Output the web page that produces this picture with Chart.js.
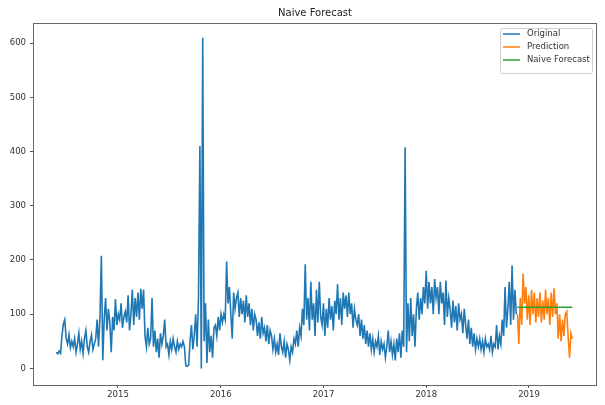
<!DOCTYPE html>
<html><head><meta charset="utf-8">
<script src="https://cdn.jsdelivr.net/npm/chart.js@4.4.1/dist/chart.umd.min.js"></script>
<style>html,body{margin:0;padding:0;background:#fff;overflow:hidden}#wrap{position:relative;width:605px;height:405px}</style>
</head><body><div id="wrap"><canvas id="c" width="605" height="405"></canvas></div>
<script>
const chartTitle = 'Naive Forecast';
const seriesNames = ['Original', 'Prediction', 'Naive Forecast'];
const seriesColors = ['#1f77b4', '#ff7f0e', '#2ca02c'];
const sampleDays = 5;
const originalStart = '2014-05-27';
const predictionStart = '2018-11-21';
const originalValues = [
30,27,32,28, 60,82,90, 55,45,62,38,50,40,55,30,
45,65,35,50,28,55,70,40,30,50,62,35,45, 55,90,40,95, 208, 15,
90,130,70,110,85,30,95, 70,128,80,100,90,120,75,95,105,85,135,70,
100,145,80,130,95,140,90,147,110,145, 60,40,75,45, 55,130,
40,70,30,55,20,65,45,60, 90,40, 45,25,50,35,55,40,30,50,35,45,40,50,
40, 5,4,6, 50,80,35,60,100,40,130, 410, 0, 610,
50,120,10,90,30,60,20,75, 80,60,95,70,100,85, 100,90,197,
120,150,100,55,140,110,130, 140,95,130,100,125,85,135,95,120,80,110,70,100,
90,60,85,55,95,65,75,50,80,45,70,
60,35,55,30,45,25,65,40,30,50,20,45,35,15,40,30,55,
45,70,40,75,60, 110,80,192,90,
130,70,160,90,120,60,145,85,160,95, 80,120,60,110,75,130,90,115,70,125,100,155,
90,130,80,140,110,135,95,140,100,120,75,110,90,
80,100,60,90,55,80,45,70,40,65,35,55,30,50,
40,60,25,50,35,45,20,40,70,30,50,25,45, 15,55,30,65,20,70, 40, 408,
30,120,50,130,60,100,40,110, 140,90,130,100,150,120,
180,110,160,120,150,100,165,130, 150,100,160,120,140,80,162,95,130,
110,75,125,85,115,70,120,90,100,65,110, 80,55,90,45,75,40,65,35,55,
40,55,35,50,30,55,40,45,35,60,30,45, 40,80,35,60,45,90,
60,150,75,110,160,80, 190, 90,145,100
];
const predictionValues = [
100,45,130,80,175,120,150,90,135,80,145,100,140,85,130,95,140,85,125,90,
145,100,130,80,140,95,148,100,120,55,100,50,90,60,100,105,60,20,65,55
];
const naiveForecastValue = 113;
const xTickYears = [2015, 2016, 2017, 2018, 2019];
const yTickValues = [0, 100, 200, 300, 400, 500, 600];

function decYear(d) {
  const y = d.getUTCFullYear();
  const s = Date.UTC(y, 0, 1), e = Date.UTC(y + 1, 0, 1);
  return y + (d.getTime() - s) / (e - s);
}
function datesFrom(start, n) {
  const t0 = new Date(start + 'T00:00:00Z').getTime();
  const out = [];
  for (let i = 0; i < n; i++) out.push(decYear(new Date(t0 + i * sampleDays * 86400000)));
  return out;
}
const originalDates = datesFrom(originalStart, originalValues.length);
const predictionDates = datesFrom(predictionStart, predictionValues.length);

const FONT = 'DejaVu Sans';

const framePlugin = {
  id: 'frame',
  afterDraw(chart) {
    const ctx = chart.ctx, a = chart.chartArea;
    ctx.save();
    ctx.strokeStyle = '#666';
    ctx.lineWidth = 1;
    ctx.strokeRect(Math.round(a.left) + 0.5, Math.round(a.top) + 0.5, Math.round(a.right - a.left) - 1, Math.round(a.bottom - a.top));
    ctx.fillStyle = '#222';
    ctx.font = '10px "' + FONT + '"';
    ctx.textAlign = 'center';
    ctx.textBaseline = 'middle';
    ctx.fillText(chartTitle, (a.left + a.right) / 2, 13);
    const bx = 500.5, by = 28.5, bw = 92, bh = 45, r = 2;
    ctx.beginPath();
    ctx.moveTo(bx + r, by);
    ctx.lineTo(bx + bw - r, by); ctx.quadraticCurveTo(bx + bw, by, bx + bw, by + r);
    ctx.lineTo(bx + bw, by + bh - r); ctx.quadraticCurveTo(bx + bw, by + bh, bx + bw - r, by + bh);
    ctx.lineTo(bx + r, by + bh); ctx.quadraticCurveTo(bx, by + bh, bx, by + bh - r);
    ctx.lineTo(bx, by + r); ctx.quadraticCurveTo(bx, by, bx + r, by);
    ctx.closePath();
    ctx.fillStyle = 'rgba(255,255,255,0.85)';
    ctx.fill();
    ctx.strokeStyle = '#d0d0d0';
    ctx.stroke();
    ctx.font = '8.5px "' + FONT + '"';
    ctx.textAlign = 'left';
    for (let i = 0; i < seriesNames.length; i++) {
      const y = 34 + i * 13;
      ctx.strokeStyle = seriesColors[i];
      ctx.lineWidth = 1.5;
      ctx.beginPath(); ctx.moveTo(503, y); ctx.lineTo(520, y); ctx.stroke();
      ctx.fillStyle = '#333';
      ctx.fillText(seriesNames[i], 527, y);
    }
    ctx.restore();
  }
};

new Chart(document.getElementById('c'), {
  type: 'line',
  data: {
    datasets: [
      { label: seriesNames[0], data: originalValues.map((v, i) => ({ x: originalDates[i], y: v })),
        borderColor: seriesColors[0], borderWidth: 1.6, pointRadius: 0, tension: 0, order: 3 },
      { label: seriesNames[1], data: predictionValues.map((v, i) => ({ x: predictionDates[i], y: v })),
        borderColor: seriesColors[1], borderWidth: 1.6, pointRadius: 0, tension: 0, order: 2 },
      { label: seriesNames[2], data: predictionDates.map(d => ({ x: d, y: naiveForecastValue })),
        borderColor: seriesColors[2], borderWidth: 1.6, pointRadius: 0, tension: 0, order: 1 }
    ]
  },
  options: {
    animation: false, responsive: false, devicePixelRatio: 1,
    layout: { padding: { left: 0, right: 8, top: 23, bottom: 0 } },
    plugins: { legend: { display: false }, title: { display: false }, tooltip: { enabled: false } },
    scales: {
      x: {
        type: 'linear', min: 2014.173, max: 2019.662,
        afterBuildTicks: s => { s.ticks = xTickYears.map(v => ({ value: v })); },
        afterFit: s => { s.height = 20; },
        ticks: { callback: v => String(v), font: { family: FONT, size: 8.5 }, color: '#333', padding: 1.5, maxRotation: 0, autoSkip: false },
        grid: { drawOnChartArea: false, tickLength: 3, tickColor: '#555' },
        border: { display: false }
      },
      y: {
        type: 'linear', min: -30.5, max: 637,
        afterBuildTicks: s => { s.ticks = yTickValues.map(v => ({ value: v })); },
        afterFit: s => { s.width = 33; },
        ticks: { callback: v => String(v), font: { family: FONT, size: 8.5 }, color: '#333', padding: 4, autoSkip: false },
        grid: { drawOnChartArea: false, tickLength: 3, tickColor: '#555' },
        border: { display: false }
      }
    }
  },
  plugins: [framePlugin]
});
</script>
</body></html>
